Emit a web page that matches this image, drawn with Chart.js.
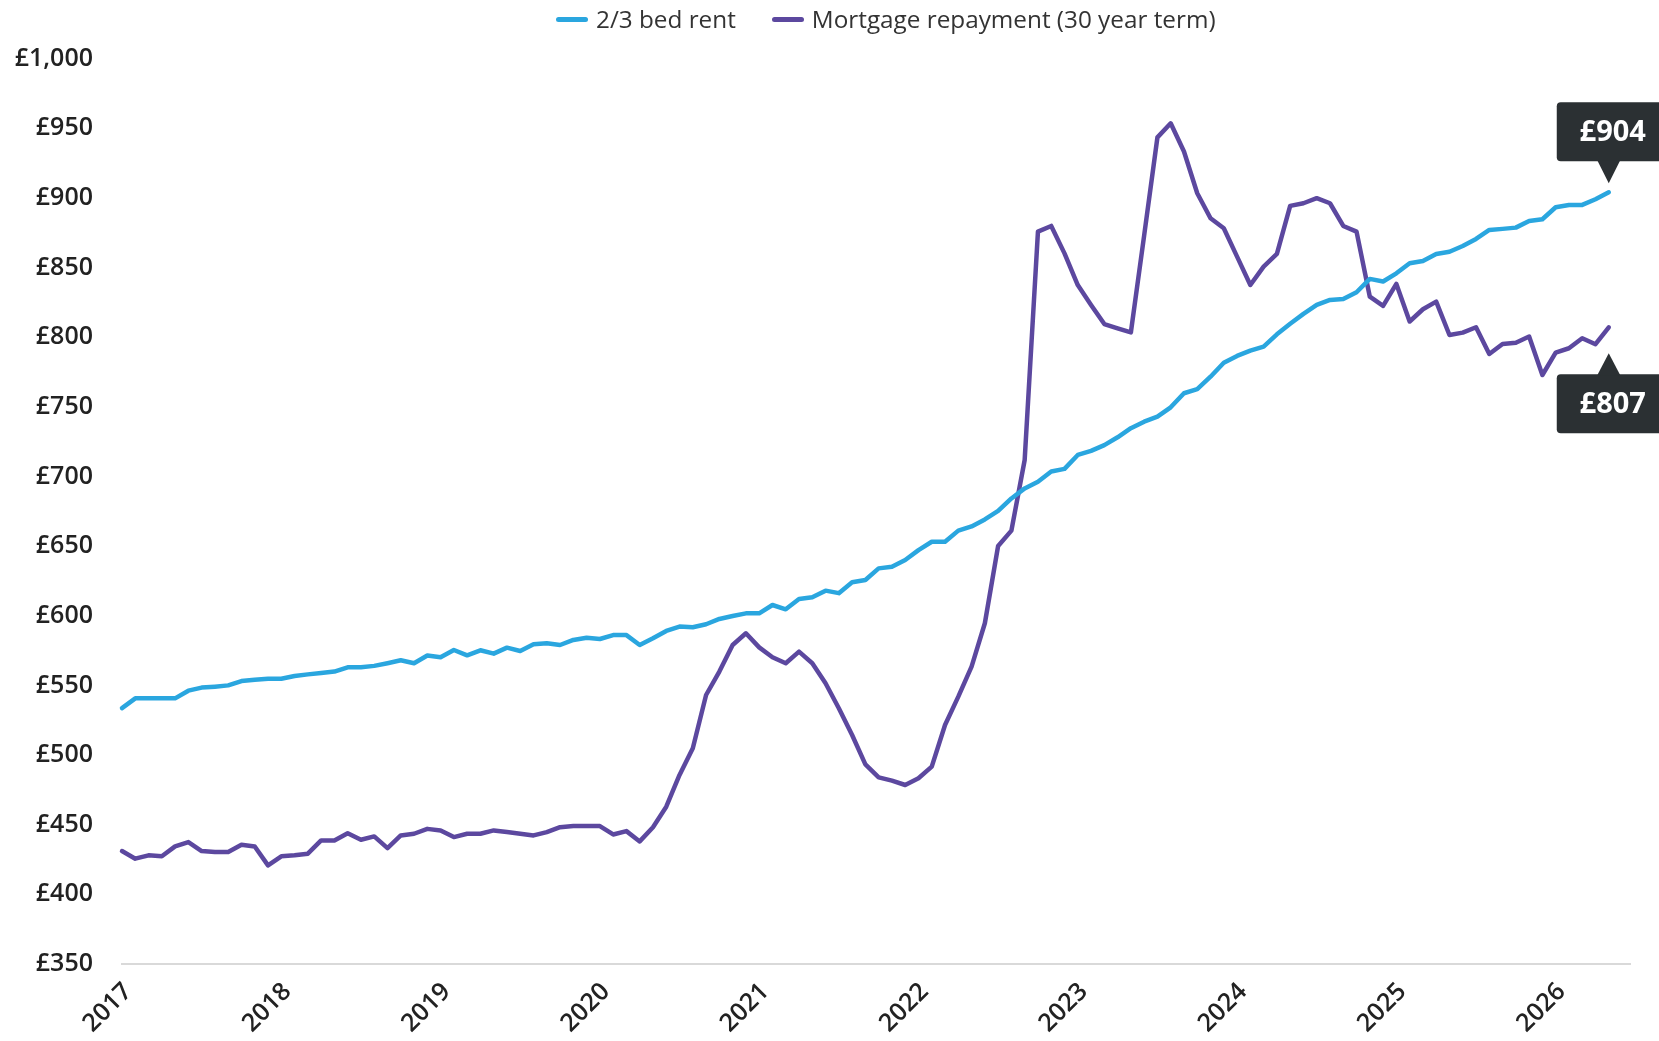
<!DOCTYPE html>
<html><head><meta charset="utf-8">
<script src="https://cdn.jsdelivr.net/npm/chart.js@4.4.1/dist/chart.umd.min.js"></script>
<style>
html,body{margin:0;padding:0;background:#fff;}
#wrap{position:relative;width:1659px;height:1041px;}
#legend{position:absolute;top:5px;left:556px;display:flex;align-items:center;font-family:'Open Sans';font-size:24.3px;color:#333;white-space:nowrap;line-height:28px;}
.item{display:flex;align-items:center;margin-right:36px;}
.sw{width:32px;height:5px;border-radius:3px;margin-right:8px;}
</style></head><body>
<div id="wrap"><canvas id="c" width="1659" height="1041"></canvas><div id="legend"></div></div>
<script>
const yearLabels = ['2017','2018','2019','2020','2021','2022','2023','2024','2025','2026'];
const monthNames = ['Jan','Feb','Mar','Apr','May','Jun','Jul','Aug','Sep','Oct','Nov','Dec'];
const yTicks = [350,400,450,500,550,600,650,700,750,800,850,900,950,1000];

const rent = [
533.7,540.7,540.7,540.7,540.7,546.2,548.4,549.1,550,553.1,554.1,554.8,
554.8,556.7,557.9,558.9,559.9,563,563,564,565.9,568,565.9,571.4,
570.2,575.4,571.6,575.2,572.8,577.1,574.7,579.5,580.2,579,582.6,584.2,
583.3,586.1,586.1,579,583.8,589.1,592.2,591.7,593.9,597.7,599.8,601.7,
601.7,607.7,604.6,612,613.2,618,616.2,624,625.7,634,635.2,640,
647.1,653.1,653.1,661.1,664.1,669.1,675.2,684.2,691.4,696.2,703.5,705.4,
715.4,718.3,722.5,728.1,734.6,739.3,742.9,749.6,759.7,762.6,771.6,781.6,
786.5,790.3,793.2,802,809.6,816.7,823.1,826.7,827.3,832.2,841.8,839.9,
845.8,853,854.7,859.7,861.3,865.4,870.5,876.9,877.7,878.6,883.4,884.6,
893.2,894.9,894.9,899,904
];
const mortgage = [
431.1,425.6,428,427.3,434.4,437.5,431.1,430.4,430.4,435.6,434.4,420.8,
427.3,428,429.2,438.7,438.7,443.9,439.2,441.6,433.2,442.3,443.5,447,
445.9,441.1,443.5,443.5,445.9,444.7,443.5,442.3,444.7,448.2,449,449,
449,443,445.4,438,448.2,462.9,485.7,504.9,543.1,559.9,579,587.4,
577.3,570.2,565.9,574.2,565.9,551.5,533.6,514.4,493.3,484,481.6,478.5,
483.3,491.7,521.6,541.9,563.5,594.6,650.1,661.1,711.8,875.7,879.8,860.1,
837.4,823.1,809.4,806.3,803.4,872.9,943.4,953.5,933.2,903.3,885.3,878.1,
857.8,837.4,850.6,859.7,894.2,896.1,899.7,896.1,879.8,875.7,829,822.4,
838.2,811.2,820,825.5,801.5,803.2,807.1,787.9,795.1,796,800.4,772.8,
788.9,792,799.2,794.9,807
];
const months = rent.map((_, i) => monthNames[i % 12] + ' ' + (2017 + Math.floor(i / 12)));

const BLUE = '#2aa6df';
const PURPLE = '#5c489f';
const FONT = "'Open Sans', sans-serif";

const callouts = {
  id: 'callouts',
  afterDraw(chart) {
    const ctx = chart.ctx;
    chart.data.datasets.forEach((ds, k) => {
      const meta = chart.getDatasetMeta(k);
      const pt = meta.data[meta.data.length - 1];
      const val = ds.data[ds.data.length - 1].y;
      const above = k === 0;
      const x = pt.x, y = pt.y;
      const w = 114, h = 59, left = x - 52;
      let tip, baseY, top;
      if (above) { tip = y - 9; baseY = tip - 22; top = baseY - h; }
      else { tip = y + 26; baseY = tip + 21; top = baseY; }
      ctx.save();
      ctx.fillStyle = '#2b3033';
      ctx.beginPath();
      ctx.roundRect(left, top, w, h, 4);
      ctx.fill();
      ctx.beginPath();
      ctx.moveTo(x - 11.5, baseY + (above ? -1 : 1));
      ctx.lineTo(x + 11.5, baseY + (above ? -1 : 1));
      ctx.lineTo(x, tip);
      ctx.closePath();
      ctx.fill();
      ctx.fillStyle = '#ffffff';
      ctx.font = "700 29px " + FONT;
      ctx.textAlign = 'center';
      ctx.textBaseline = 'middle';
      ctx.fillText('£' + Math.round(val), x + 4, top + h / 2 + 1);
      ctx.restore();
    });
  }
};

const chart = new Chart(document.getElementById('c'), {
  type: 'line',
  data: {
    labels: months,
    datasets: [
      { label: '2/3 bed rent', data: rent.map((v, i) => ({ x: i, y: v })), borderColor: BLUE, backgroundColor: BLUE,
        borderWidth: 4.5, pointRadius: 0, tension: 0, clip: false, borderJoinStyle: 'round', borderCapStyle: 'round' },
      { label: 'Mortgage repayment (30 year term)', data: mortgage.map((v, i) => ({ x: i, y: v })), borderColor: PURPLE, backgroundColor: PURPLE,
        borderWidth: 4.5, pointRadius: 0, tension: 0, clip: false, borderJoinStyle: 'round', borderCapStyle: 'round' }
    ]
  },
  options: {
    responsive: false, animation: false, devicePixelRatio: 1,
    layout: { padding: { top: 58.5, right: 29, left: 0, bottom: 0 } },
    plugins: { legend: { display: false }, tooltip: { enabled: false } },
    scales: {
      x: {
        type: 'linear', min: 0, max: 113.6,
        afterBuildTicks(s) { s.ticks = yearLabels.map((y, k) => ({ value: k * 12 })); },
        afterFit(s) { s.height = 77; },
        ticks: { autoSkip: false, minRotation: 45, maxRotation: 45, padding: 13, labelOffset: 6, color: '#222',
          font: { family: FONT, size: 25, weight: '600' },
          callback: (v) => yearLabels[Math.round(v / 12)] },
        grid: { display: false, drawTicks: false },
        border: { display: true, color: '#d9d9d9', width: 2 }
      },
      y: {
        min: 350, max: 1000,
        afterBuildTicks(s) { s.ticks = yTicks.map(v => ({ value: v })); },
        afterFit(s) { s.width = 122; },
        ticks: { padding: 29, color: '#222', font: { family: FONT, size: 25, weight: '600' },
          callback: (v) => '£' + v.toLocaleString('en-GB') },
        grid: { display: false, drawTicks: false },
        border: { display: false }
      }
    }
  },
  plugins: [callouts]
});

const lg = document.getElementById('legend');
chart.data.datasets.forEach(ds => {
  const it = document.createElement('div'); it.className = 'item';
  const sw = document.createElement('span'); sw.className = 'sw'; sw.style.background = ds.borderColor;
  const tx = document.createElement('span'); tx.textContent = ds.label;
  it.appendChild(sw); it.appendChild(tx); lg.appendChild(it);
});
</script>
</body></html>
